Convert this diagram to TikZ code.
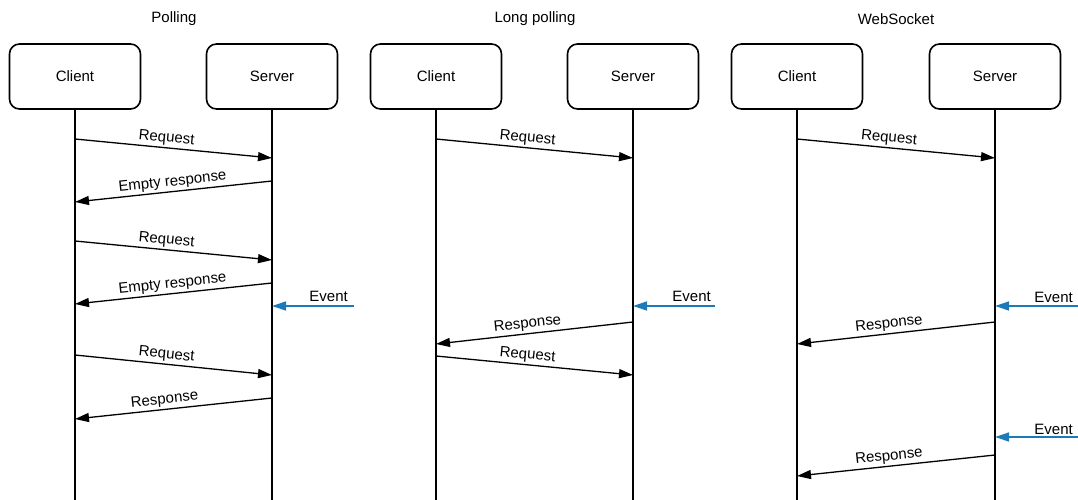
\documentclass[tikz,border=0pt]{standalone}
\usepackage{fontspec}
\setmainfont{Liberation Sans}
\usetikzlibrary{arrows.meta}
\definecolor{eventblue}{RGB}{28,122,184}
\tikzset{
  actor/.style={draw, line width=1.6pt, rounded corners=10pt, minimum width=131pt, minimum height=65pt,
    text height=11pt, text depth=0pt, font=\fontsize{15}{17}\selectfont},
  title/.style={font=\fontsize{15}{17}\selectfont},
  life/.style={line width=1.6pt},
  msg/.style={line width=1.3pt, -{Triangle[length=14pt,width=9pt]}},
  evt/.style={line width=1.3pt, eventblue, -{Triangle[length=14pt,width=9pt]}},
  lbl/.style={font=\fontsize{15}{17}\selectfont, sloped, above, inner sep=2pt},
  elbl/.style={font=\fontsize{15}{17}\selectfont, inner sep=0pt}
}
\begin{document}
\begin{tikzpicture}[x=1pt,y=-1pt]
\useasboundingbox (0,0) rectangle (1078,500);

% ---------- Polling ----------
\node[title] (t1) at (174,19) {Polling};
\node[actor] (c1) at (75,76.5) {Client};
\node[actor] (s1) at (272,76.5) {Server};
\coordinate (c1b) at (75,500);
\coordinate (s1b) at (272,500);
\draw[life] (c1.south) -- (c1b);
\draw[life] (s1.south) -- (s1b);

\coordinate (p1a) at (75,139);  \coordinate (p1b) at (272,158);
\coordinate (p2a) at (272,181); \coordinate (p2b) at (75,202);
\coordinate (p3a) at (75,241);  \coordinate (p3b) at (272,260);
\coordinate (p4a) at (272,283); \coordinate (p4b) at (75,304);
\coordinate (p5a) at (354,306); \coordinate (p5b) at (272,306);
\coordinate (p6a) at (75,355);  \coordinate (p6b) at (272,375);
\coordinate (p7a) at (272,398); \coordinate (p7b) at (75,419);

\draw[msg] (p1a) -- node[lbl, pos=0.46] {Request} (p1b);
\draw[msg] (p2a) -- node[lbl, pos=0.5] {Empty response} (p2b);
\draw[msg] (p3a) -- node[lbl, pos=0.46] {Request} (p3b);
\draw[msg] (p4a) -- node[lbl, pos=0.5] {Empty response} (p4b);
\draw[evt] (p5a) -- (p5b);
\node[elbl, anchor=base east] (e1) at (348,301) {Event};
\draw[msg] (p6a) -- node[lbl, pos=0.46] {Request} (p6b);
\draw[msg] (p7a) -- node[lbl, pos=0.54] {Response} (p7b);

% ---------- Long polling ----------
\node[title] (t2) at (535,19) {Long polling};
\node[actor] (c2) at (436,76.5) {Client};
\node[actor] (s2) at (633,76.5) {Server};
\coordinate (c2b) at (436,500);
\coordinate (s2b) at (633,500);
\draw[life] (c2.south) -- (c2b);
\draw[life] (s2.south) -- (s2b);

\coordinate (l1a) at (436,139); \coordinate (l1b) at (633,158);
\coordinate (l2a) at (715,306); \coordinate (l2b) at (633,306);
\coordinate (l3a) at (633,322); \coordinate (l3b) at (436,344);
\coordinate (l4a) at (436,356); \coordinate (l4b) at (633,375);

\draw[msg] (l1a) -- node[lbl, pos=0.46] {Request} (l1b);
\draw[evt] (l2a) -- (l2b);
\node[elbl, anchor=base east] (e2) at (711,301) {Event};
\draw[msg] (l3a) -- node[lbl, pos=0.53] {Response} (l3b);
\draw[msg] (l4a) -- node[lbl, pos=0.46] {Request} (l4b);

% ---------- WebSocket ----------
\node[title] (t3) at (896,19) {WebSocket};
\node[actor] (c3) at (797,76.5) {Client};
\node[actor] (s3) at (995,76.5) {Server};
\coordinate (c3b) at (797,500);
\coordinate (s3b) at (995,500);
\draw[life] (c3.south) -- (c3b);
\draw[life] (s3.south) -- (s3b);

\coordinate (w1a) at (797,139);  \coordinate (w1b) at (995,158);
\coordinate (w2a) at (1078,306); \coordinate (w2b) at (995,306);
\coordinate (w3a) at (995,322);  \coordinate (w3b) at (797,344);
\coordinate (w4a) at (1078,437); \coordinate (w4b) at (995,437);
\coordinate (w5a) at (995,455);  \coordinate (w5b) at (797,476);

\draw[msg] (w1a) -- node[lbl, pos=0.46] {Request} (w1b);
\draw[evt] (w2a) -- (w2b);
\node[elbl, anchor=base east] (e3) at (1073,302) {Event};
\draw[msg] (w3a) -- node[lbl, pos=0.53] {Response} (w3b);
\draw[evt] (w4a) -- (w4b);
\node[elbl, anchor=base east] (e4) at (1073,434) {Event};
\draw[msg] (w5a) -- node[lbl, pos=0.53] {Response} (w5b);
\end{tikzpicture}
\end{document}
